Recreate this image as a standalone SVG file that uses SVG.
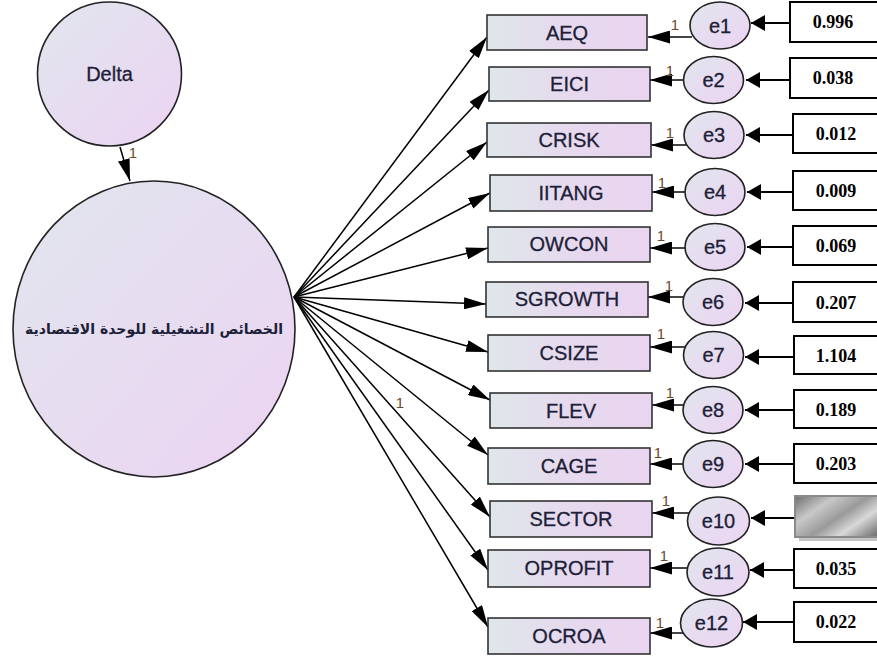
<svg xmlns="http://www.w3.org/2000/svg" width="877" height="656" viewBox="0 0 877 656">
<defs>
<linearGradient id="gc" x1="0" y1="0" x2="1" y2="1">
<stop offset="0" stop-color="#e1e6ee"/>
<stop offset="1" stop-color="#ecd3f2"/>
</linearGradient>
<linearGradient id="gr" x1="0" y1="0" x2="1" y2="0">
<stop offset="0" stop-color="#dfe7ea"/>
<stop offset="0.5" stop-color="#e6d9ee"/>
<stop offset="1" stop-color="#ead5f0"/>
</linearGradient>
<linearGradient id="gg" x1="0" y1="0" x2="1" y2="0.6">
<stop offset="0" stop-color="#6e6e6e"/>
<stop offset="0.3" stop-color="#c8c8c8"/>
<stop offset="0.55" stop-color="#9a9a9a"/>
<stop offset="0.75" stop-color="#d8d8d8"/>
<stop offset="1" stop-color="#7a7a7a"/>
</linearGradient>
<marker id="ah" viewBox="0 0 22 12" refX="22" refY="6" markerWidth="22" markerHeight="12" markerUnits="userSpaceOnUse" orient="auto">
<path d="M0,0 L22,6 L0,12 Z" fill="#000"/>
</marker>
<marker id="as" viewBox="0 0 22 13" refX="22" refY="6.5" markerWidth="22" markerHeight="13" markerUnits="userSpaceOnUse" orient="auto">
<path d="M0,0 L22,6.5 L0,13 Z" fill="#000"/>
</marker>
<marker id="ab" viewBox="0 0 14 16" refX="14" refY="8" markerWidth="14" markerHeight="16" markerUnits="userSpaceOnUse" orient="auto">
<path d="M0,0 L14,8 L0,16 Z" fill="#000"/>
</marker>
</defs>
<style>
.node{fill:url(#gc);stroke:#222;stroke-width:1.6}
.obs{fill:url(#gr);stroke:#333;stroke-width:1.6}
.val{fill:#fff;stroke:#000;stroke-width:2}
.lbl{font-family:"Liberation Sans",Arial,sans-serif;font-size:20px;fill:#1c2038;stroke:#1c2038;stroke-width:0.3;text-anchor:middle}
.el{font-family:"Liberation Sans",Arial,sans-serif;font-size:20px;fill:#1c2038;stroke:#1c2038;stroke-width:0.3;text-anchor:middle}
.num{font-family:"Liberation Serif","Times New Roman",serif;font-size:18px;font-weight:bold;fill:#000;text-anchor:middle}
.one{font-family:"Liberation Sans",Arial,sans-serif;font-size:15px;fill:#6b4a2a;text-anchor:middle}
.fan{stroke:#000;stroke-width:1.5;fill:none;marker-end:url(#ah)}
.err{stroke:#444;stroke-width:2;fill:none;marker-end:url(#as)}
.var{stroke:#000;stroke-width:2;fill:none;marker-end:url(#ab)}
</style>
<rect width="877" height="656" fill="#fff"/>

<g id="connectors">
<line class="fan" x1="120" y1="147" x2="130" y2="181"/>
<line class="fan" x1="294" y1="297" x2="487" y2="37"/>
<line class="fan" x1="294" y1="297" x2="489" y2="90"/>
<line class="fan" x1="294" y1="297" x2="487" y2="142"/>
<line class="fan" x1="294" y1="297" x2="490" y2="193"/>
<line class="fan" x1="294" y1="297" x2="488" y2="248"/>
<line class="fan" x1="294" y1="297" x2="486" y2="304"/>
<line class="fan" x1="294" y1="297" x2="488" y2="352"/>
<line class="fan" x1="294" y1="297" x2="490" y2="400"/>
<line class="fan" x1="294" y1="297" x2="488" y2="455"/>
<line class="fan" x1="294" y1="297" x2="490" y2="517"/>
<line class="fan" x1="294" y1="297" x2="488" y2="570"/>
<line class="fan" x1="294" y1="297" x2="488" y2="627"/>

<line class="err" x1="692" y1="37" x2="648" y2="37"/>
<line class="err" x1="684" y1="80" x2="650" y2="80"/>
<line class="err" x1="688" y1="145" x2="651" y2="145"/>
<line class="err" x1="686" y1="192" x2="652" y2="192"/>
<line class="err" x1="686" y1="248" x2="650" y2="248"/>
<line class="err" x1="684" y1="297" x2="648" y2="297"/>
<line class="err" x1="686" y1="347" x2="650" y2="347"/>
<line class="err" x1="684" y1="405" x2="652" y2="405"/>
<line class="err" x1="684" y1="464" x2="650" y2="464"/>
<line class="err" x1="690" y1="513" x2="652" y2="513"/>
<line class="err" x1="688" y1="568" x2="650" y2="568"/>
<line class="err" x1="686" y1="633" x2="650" y2="633"/>

<line class="var" x1="789" y1="23" x2="751" y2="23"/>
<line class="var" x1="789" y1="80" x2="746" y2="80"/>
<line class="var" x1="793" y1="135" x2="746" y2="135"/>
<line class="var" x1="793" y1="192" x2="747" y2="192"/>
<line class="var" x1="793" y1="247" x2="747" y2="247"/>
<line class="var" x1="793" y1="303" x2="745" y2="303"/>
<line class="var" x1="794" y1="357" x2="745" y2="357"/>
<line class="var" x1="794" y1="410" x2="745" y2="410"/>
<line class="var" x1="794" y1="464" x2="745" y2="464"/>
<line class="var" x1="795" y1="518" x2="751" y2="518"/>
<line class="var" x1="794" y1="570" x2="750" y2="570"/>
<line class="var" x1="794" y1="622" x2="743" y2="622"/>

<text class="one" x="133" y="158">1</text>
<text class="one" x="400" y="408">1</text>
<text class="one" x="675" y="30">1</text>
<text class="one" x="670" y="76">1</text>
<text class="one" x="670" y="138">1</text>
<text class="one" x="662" y="188">1</text>
<text class="one" x="661" y="241">1</text>
<text class="one" x="669" y="291">1</text>
<text class="one" x="661" y="339">1</text>
<text class="one" x="670" y="398">1</text>
<text class="one" x="658" y="458">1</text>
<text class="one" x="666" y="506">1</text>
<text class="one" x="664" y="561">1</text>
<text class="one" x="660" y="628">1</text>
</g>

<g id="delta">
<circle class="node" cx="109.5" cy="74" r="72"/>
<text class="lbl" x="109.5" y="81">Delta</text>
</g>
<g id="latent">
<ellipse class="node" cx="154" cy="329" rx="141" ry="148"/>
<text x="154" y="334" font-family="'DejaVu Sans','Noto Sans',sans-serif" font-size="14" font-weight="bold" fill="#1c2038" text-anchor="middle" direction="rtl">الخصائص التشغيلية للوحدة الاقتصادية</text>
</g>

<g id="AEQ"><rect class="obs" x="487" y="15" width="160" height="35"/><text class="lbl" x="567" y="40">AEQ</text></g>
<g id="EICI"><rect class="obs" x="489" y="67" width="161" height="34"/><text class="lbl" x="569.5" y="91">EICI</text></g>
<g id="CRISK"><rect class="obs" x="487" y="123" width="164" height="34"/><text class="lbl" x="569" y="147">CRISK</text></g>
<g id="IITANG"><rect class="obs" x="490" y="175" width="162" height="36"/><text class="lbl" x="571" y="200">IITANG</text></g>
<g id="OWCON"><rect class="obs" x="488" y="227" width="162" height="35"/><text class="lbl" x="569" y="251">OWCON</text></g>
<g id="SGROWTH"><rect class="obs" x="486" y="282" width="162" height="35"/><text class="lbl" x="567" y="306">SGROWTH</text></g>
<g id="CSIZE"><rect class="obs" x="488" y="335" width="162" height="36"/><text class="lbl" x="569" y="360">CSIZE</text></g>
<g id="FLEV"><rect class="obs" x="490" y="393" width="162" height="35"/><text class="lbl" x="571" y="418">FLEV</text></g>
<g id="CAGE"><rect class="obs" x="488" y="448" width="162" height="36"/><text class="lbl" x="569" y="473">CAGE</text></g>
<g id="SECTOR"><rect class="obs" x="490" y="501" width="162" height="36"/><text class="lbl" x="571" y="526">SECTOR</text></g>
<g id="OPROFIT"><rect class="obs" x="488" y="550" width="162" height="37"/><text class="lbl" x="569" y="575">OPROFIT</text></g>
<g id="OCROA"><rect class="obs" x="488" y="618" width="162" height="36"/><text class="lbl" x="569" y="643">OCROA</text></g>

<g id="e1"><ellipse class="node" cx="720" cy="25.5" rx="30" ry="23.5"/><text class="el" x="720" y="33">e1</text></g>
<g id="e2"><ellipse class="node" cx="713.5" cy="80" rx="30" ry="23.5"/><text class="el" x="713.5" y="87">e2</text></g>
<g id="e3"><ellipse class="node" cx="714" cy="135" rx="30" ry="23.5"/><text class="el" x="714" y="142">e3</text></g>
<g id="e4"><ellipse class="node" cx="715" cy="192" rx="30" ry="23.5"/><text class="el" x="715" y="199">e4</text></g>
<g id="e5"><ellipse class="node" cx="715" cy="247" rx="30" ry="23.5"/><text class="el" x="715" y="254">e5</text></g>
<g id="e6"><ellipse class="node" cx="713" cy="302" rx="30" ry="23.5"/><text class="el" x="713" y="309">e6</text></g>
<g id="e7"><ellipse class="node" cx="713.5" cy="355" rx="30" ry="23.5"/><text class="el" x="713.5" y="362">e7</text></g>
<g id="e8"><ellipse class="node" cx="713" cy="410" rx="30" ry="23.5"/><text class="el" x="713" y="417">e8</text></g>
<g id="e9"><ellipse class="node" cx="713" cy="464" rx="30" ry="23.5"/><text class="el" x="713" y="471">e9</text></g>
<g id="e10"><ellipse class="node" cx="718.5" cy="521" rx="31" ry="24"/><text class="el" x="718.5" y="528">e10</text></g>
<g id="e11"><ellipse class="node" cx="718" cy="572" rx="31" ry="24"/><text class="el" x="718" y="579">e11</text></g>
<g id="e12"><ellipse class="node" cx="711.5" cy="623" rx="31" ry="24"/><text class="el" x="711.5" y="630">e12</text></g>

<g id="v1"><rect class="val" x="790" y="2" width="100" height="40"/><text class="num" x="833" y="28">0.996</text></g>
<g id="v2"><rect class="val" x="790" y="58" width="100" height="40"/><text class="num" x="833" y="84">0.038</text></g>
<g id="v3"><rect class="val" x="793" y="114" width="100" height="39"/><text class="num" x="836" y="140">0.012</text></g>
<g id="v4"><rect class="val" x="793" y="171" width="100" height="39"/><text class="num" x="836" y="197">0.009</text></g>
<g id="v5"><rect class="val" x="793" y="226" width="100" height="39"/><text class="num" x="836" y="252">0.069</text></g>
<g id="v6"><rect class="val" x="793" y="282" width="100" height="40"/><text class="num" x="836" y="309">0.207</text></g>
<g id="v7"><rect class="val" x="794" y="336" width="100" height="38"/><text class="num" x="836" y="362">1.104</text></g>
<g id="v8"><rect class="val" x="794" y="390" width="100" height="38"/><text class="num" x="836" y="416">0.189</text></g>
<g id="v9"><rect class="val" x="794" y="444" width="100" height="39"/><text class="num" x="836" y="470">0.203</text></g>
<g id="v10"><rect x="799" y="501" width="100" height="40" fill="#c4c4c4"/><rect x="795" y="496" width="100" height="41" fill="url(#gg)" stroke="#8a8a8a" stroke-width="2"/></g>
<g id="v11"><rect class="val" x="794" y="549" width="100" height="39"/><text class="num" x="836" y="575">0.035</text></g>
<g id="v12"><rect class="val" x="794" y="602" width="100" height="40"/><text class="num" x="836" y="628">0.022</text></g>
</svg>
